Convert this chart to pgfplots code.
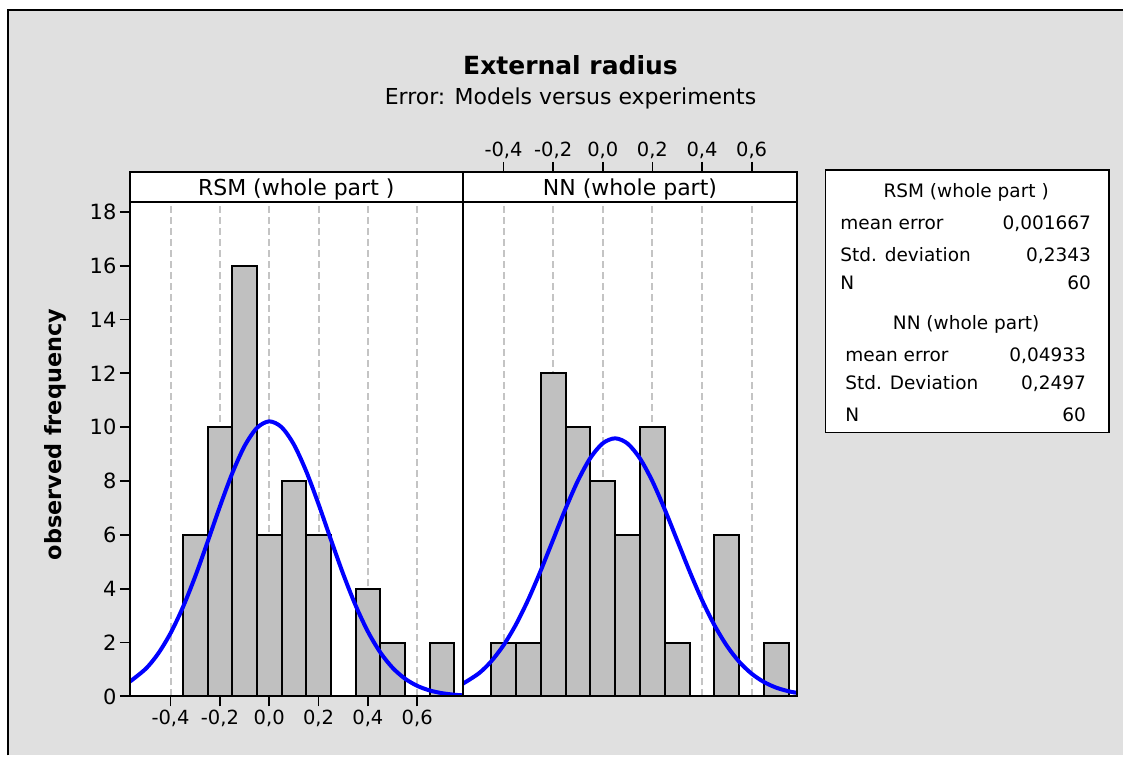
\documentclass[border=0pt]{standalone}
\usepackage{fontspec}
\setmainfont{DejaVu Sans}
\usepackage{pgfplots}
\pgfplotsset{compat=1.18}
\definecolor{bg}{RGB}{224,224,224}
\definecolor{barfill}{RGB}{192,192,192}
\definecolor{gridc}{RGB}{196,196,196}
\newcommand{\fs}[1]{\fontsize{#1}{#1}\selectfont}
\pgfplotsset{
  panel/.style={
    anchor=south west, scale only axis, height=525pt,
    xmin=-0.565, xmax=0.784, ymin=0, ymax=19.485,
    axis background/.style={fill=white},
    xtick={-0.4,-0.2,0,0.2,0.4,0.6},
    xticklabels={{-0,4},{-0,2},{0,0},{0,2},{0,4},{0,6}},
    tick align=outside, major tick length=10pt,
    xmajorgrids,
    major grid style={color=gridc, dash pattern=on 7pt off 4pt, line width=2pt},
    axis line style={line width=2pt},
    tick style={black, line width=1.8pt},
    /pgf/number format/assume math mode=true,
    xticklabel style={font=\fs{19.5}},
    yticklabel style={font=\fs{21}},
  },
  bars/.style={ybar, bar width=0.1, fill=barfill, draw=black, line width=2pt},
  curve/.style={color=blue, line width=4pt, smooth, no marks},
}
\begin{document}
\begin{tikzpicture}
% background
\fill[white] (0pt,0pt) rectangle (1124pt,-756pt);
\fill[bg] (8pt,-10pt) rectangle (1124pt,-756pt);
\draw[black, line width=2pt] (8pt,-756pt) -- (8pt,-10pt) -- (1124pt,-10pt);

% panel 1: RSM
\begin{axis}[panel, at={(130pt,-697pt)}, width=333pt,
  ytick={0,2,4,6,8,10,12,14,16,18},
  xtick pos=left, xticklabel pos=left, ytick pos=left]
\addplot[bars] coordinates {
(-0.3,6) (-0.2,10) (-0.1,16) (0.0,6) (0.1,8) (0.2,6) (0.4,4) (0.5,2) (0.7,2)};
\addplot[curve] coordinates {
(-0.565,0.548) (-0.5,1.032) (-0.45,1.594) (-0.4,2.350) (-0.35,3.312) (-0.3,4.459)
(-0.25,5.737) (-0.2,7.053) (-0.15,8.285) (-0.1,9.299) (-0.05,9.971) (0,10.216)
(0.05,10.001) (0.1,9.355) (0.15,8.361) (0.2,7.140) (0.25,5.825) (0.3,4.542)
(0.35,3.384) (0.4,2.408) (0.45,1.638) (0.5,1.064) (0.55,0.661) (0.6,0.392)
(0.65,0.222) (0.7,0.120) (0.75,0.062) (0.784,0.040)};
\end{axis}

% panel 2: NN
\begin{axis}[panel, at={(463pt,-697pt)}, width=335pt,
  ytick=\empty,
  xtick pos=right, xticklabel pos=right]
\addplot[bars] coordinates {
(-0.4,2) (-0.3,2) (-0.2,12) (-0.1,10) (0.0,8) (0.1,6) (0.2,10) (0.3,2) (0.5,6) (0.7,2)};
\addplot[curve] coordinates {
(-0.565,0.465) (-0.5,0.852) (-0.45,1.298) (-0.4,1.899) (-0.35,2.669) (-0.3,3.603)
(-0.25,4.673) (-0.2,5.823) (-0.15,6.971) (-0.1,8.017) (-0.05,8.857) (0,9.401)
(0.05,9.586) (0.1,9.391) (0.15,8.837) (0.2,7.991) (0.25,6.940) (0.3,5.792)
(0.35,4.643) (0.4,3.576) (0.45,2.646) (0.5,1.881) (0.55,1.284) (0.6,0.843)
(0.65,0.531) (0.7,0.321) (0.75,0.187) (0.784,0.130)};
\end{axis}

% header strip and frame
\fill[white] (130pt,-172pt) rectangle (798pt,-202pt);
\draw[black, line width=1.8pt] (130pt,-202pt) -- (798pt,-202pt);
\draw[black, line width=2pt] (130pt,-172pt) rectangle (798pt,-697pt);
\draw[black, line width=2pt] (463pt,-172pt) -- (463pt,-697pt);
\node[anchor=base, inner sep=0pt, font=\fs{22}] at (296.5pt,-196pt) {RSM (whole part )};
\node[anchor=base, inner sep=0pt, font=\fs{22}] at (630.5pt,-196pt) {NN (whole part)};

% titles
\node[anchor=base, inner sep=0pt, font=\bfseries\fs{25}] at (571pt,-75pt) {External radius};
\node[anchor=base, inner sep=0pt, font=\fs{22}] at (571pt,-105pt) {Error: Models versus experiments};
\node[anchor=base, inner sep=0pt, rotate=90, font=\bfseries\fs{22.4}] at (62pt,-435pt) {observed frequency};

% statistics box
\draw[black, line width=1.5pt, fill=white] (826pt,-170pt) rectangle (1110pt,-433pt);
\begin{scope}[every node/.style={inner sep=0pt, font=\fs{18.5}}]
\node[anchor=base] at (967pt,-198pt) {RSM (whole part )};
\node[anchor=base west] at (841pt,-230pt) {mean error};
\node[anchor=base east] at (1092pt,-230pt) {0,001667};
\node[anchor=base west] at (841pt,-261.5pt) {Std. deviation};
\node[anchor=base east] at (1092pt,-261.5pt) {0,2343};
\node[anchor=base west] at (841pt,-290pt) {N};
\node[anchor=base east] at (1092pt,-290pt) {60};
\node[anchor=base] at (967pt,-330pt) {NN (whole part)};
\node[anchor=base west] at (846pt,-361.5pt) {mean error};
\node[anchor=base east] at (1087pt,-361.5pt) {0,04933};
\node[anchor=base west] at (846pt,-390pt) {Std. Deviation};
\node[anchor=base east] at (1087pt,-390pt) {0,2497};
\node[anchor=base west] at (846pt,-421.5pt) {N};
\node[anchor=base east] at (1087pt,-421.5pt) {60};
\end{scope}
\end{tikzpicture}
\end{document}
